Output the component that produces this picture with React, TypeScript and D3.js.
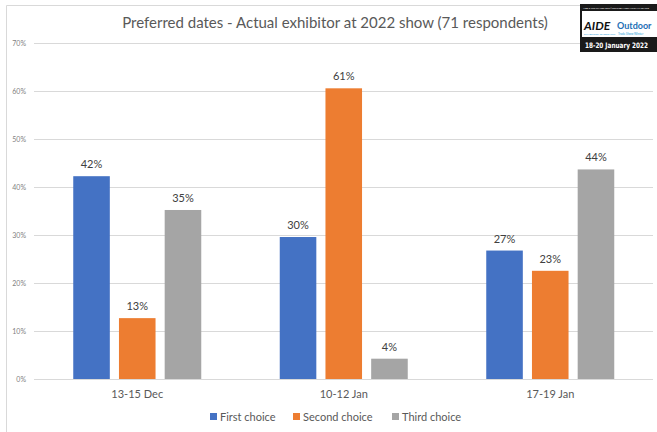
import React from "react";
import * as d3 from "d3";

const categories = ["13-15 Dec", "10-12 Jan", "17-19 Jan"];
const seriesNames = ["First choice", "Second choice", "Third choice"];
const firstChoice = [42.25, 29.58, 26.76];
const secondChoice = [12.68, 60.56, 22.54];
const thirdChoice = [35.21, 4.23, 43.66];
const yTicks = [0, 10, 20, 30, 40, 50, 60, 70];
const colors = ["#4472C4", "#ED7D31", "#A5A5A5"];
const title = "Preferred dates - Actual exhibitor at 2022 show (71 respondents)";

const W = 657;
const H = 432;
const FONT = "Lato, 'Open Sans', sans-serif";

export default function App() {
  const series = [firstChoice, secondChoice, thirdChoice];
  const x0 = d3.scaleBand<string>().domain(categories).range([34, 653.5]).paddingInner(0).paddingOuter(0);
  const x1 = d3.scaleBand<string>().domain(seriesNames).range([0, 128]).paddingInner(0.2);
  const y = d3.scaleLinear().domain([0, 70]).range([379, 43]);

  const groupOffset = (x0.bandwidth() - 128) / 2;

  return (
    <svg width={W} height={H} style={{ position: "absolute", left: 0, top: 0, background: "#fff" }} fontFamily={FONT}>
      <rect x={0} y={0} width={W} height={H} fill="#fff" />
      {/* border */}
      <line x1={6.5} y1={5.5} x2={6.5} y2={H} stroke="#D9D9D9" strokeWidth={1} />
      <line x1={6.5} y1={5.5} x2={580} y2={5.5} stroke="#D9D9D9" strokeWidth={1} />
      {/* title */}
      <text x={335} y={28} textAnchor="middle" fontSize={15} fill="#595959">{title}</text>
      {/* gridlines and ticks */}
      {yTicks.map((t) => (
        <g key={t}>
          <line x1={34} x2={653} y1={Math.round(y(t)) + 0.5} y2={Math.round(y(t)) + 0.5} stroke="#D9D9D9" strokeWidth={1} />
          <text x={26} y={y(t) + 2.5} textAnchor="end" fontSize={7} fill="#7F7F7F">{t}%</text>
        </g>
      ))}
      {/* bars */}
      {categories.map((c, ci) => (
        <g key={c} transform={`translate(${(x0(c) ?? 0) + groupOffset},0)`}>
          {seriesNames.map((s, si) => {
            const v = series[si][ci];
            const bx = x1(s) ?? 0;
            return (
              <g key={s}>
                <rect x={bx} y={y(v)} width={x1.bandwidth()} height={y(0) - y(v)} fill={colors[si]} />
                <text x={bx + x1.bandwidth() / 2} y={y(v) - 8} textAnchor="middle" fontSize={11} fill="#404040">
                  {d3.format(".0f")(v)}%
                </text>
              </g>
            );
          })}
          <text x={64} y={398} textAnchor="middle" fontSize={11} fill="#595959">{c}</text>
        </g>
      ))}
      {/* legend */}
      {seriesNames.map((s, si) => {
        const lx = [210, 293, 392][si];
        return (
          <g key={s}>
            <rect x={lx} y={413} width={7} height={7} fill={colors[si]} />
            <text x={lx + 10} y={421} fontSize={11} fill="#595959">{s}</text>
          </g>
        );
      })}
      {/* logo */}
      <g>
        <rect x={580} y={4} width={77} height={48} fill="#1a1a1a" />
        <rect x={582} y={11} width={75} height={26} fill="#fff" />
        <text x={583} y={9} fontSize={2.5} fill="#fff" textLength={66} lengthAdjust="spacingAndGlyphs">AIDE &amp; OTS WINTER 2022 | TELFORD INTERNATIONAL CENTRE</text>
        <text x={584} y={30} fontSize={12} fontWeight="bold" fontStyle="italic" fill="#111">AIDE</text>
        <text x={584} y={35} fontSize={2.5} fill="#1E9BD7">EXHIBITORS' TRADESHOW</text>
        <text x={617} y={29} fontSize={9} fontWeight="bold" fill="#1E6FB5">Outdoor</text>
        <text x={618} y={35} fontSize={3} fill="#1E9BD7">Trade Show Winter</text>
        <text x={585} y={48} fontSize={7.5} fontWeight="bold" fill="#fff" fontFamily="'Liberation Sans Narrow', 'DejaVu Sans Condensed', sans-serif" textLength={63} lengthAdjust="spacingAndGlyphs">18-20 January 2022</text>
      </g>
    </svg>
  );
}
